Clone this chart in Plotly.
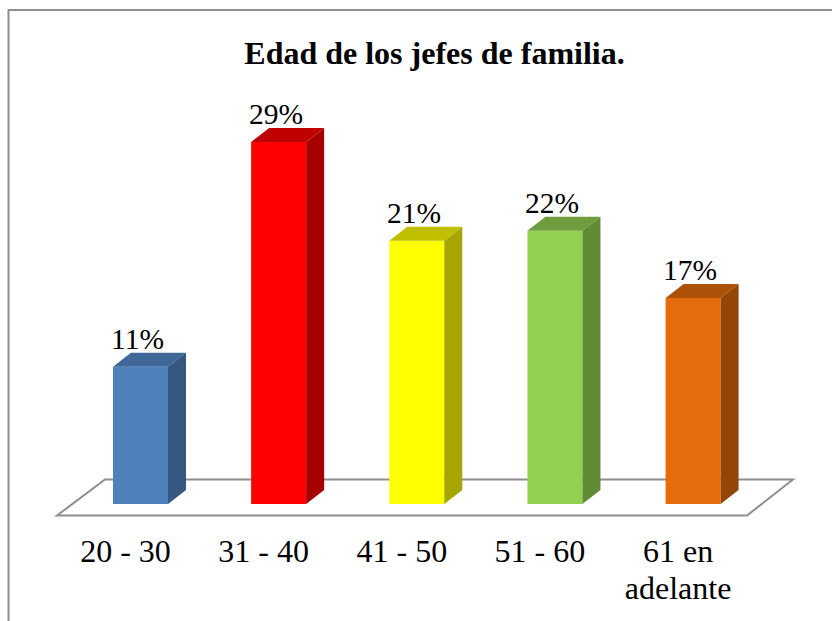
import plotly.graph_objects as go

W, H = 832, 621
categories = ["20 - 30", "31 - 40", "41 - 50", "51 - 60", "61 en<br>adelante"]
values = [11.0, 29.0, 21.1, 21.9, 16.5]
labels = ["11%", "29%", "21%", "22%", "17%"]
front_colors = ["#4F81BD", "#FF0000", "#FFFF00", "#92D050", "#E46C0A"]
side_colors = ["#355780", "#A60000", "#A6A600", "#618B35", "#944607"]
top_colors = ["#3F6797", "#BF0000", "#BFBF00", "#6F9C3C", "#AB5108"]

FONT = "Liberation Serif"
X0_PX, STEP_PX = 140.5, 138.15
Y0_PX, UNIT_PX = 504, 12.48
AXIS_BOTTOM_PX = 518
BAR_W = 55 / STEP_PX
DX = 18 / STEP_PX
DY = 14 / UNIT_PX

fig = go.Figure()
fig.add_trace(go.Bar(x=list(range(5)), y=values, width=BAR_W,
                     marker=dict(color=front_colors, line=dict(width=0)),
                     hoverinfo="skip", showlegend=False))
for i, v in enumerate(values):
    xl, xr = i - BAR_W / 2, i + BAR_W / 2
    fig.add_trace(go.Scatter(x=[xr, xr + DX, xr + DX, xr, xr], y=[0, DY, v + DY, v, 0],
                             mode="lines", fill="toself", fillcolor=side_colors[i],
                             line=dict(width=0), hoverinfo="skip", showlegend=False))
    fig.add_trace(go.Scatter(x=[xl, xr, xr + DX, xl + DX, xl], y=[v, v, v + DY, v + DY, v],
                             mode="lines", fill="toself", fillcolor=top_colors[i],
                             line=dict(width=0), hoverinfo="skip", showlegend=False))
    fig.add_annotation(x=i, y=v, text=labels[i], showarrow=False, xshift=-3, yshift=10,
                       yanchor="bottom", font=dict(family=FONT, size=29.5, color="#000000"))

fx = lambda p: (p - X0_PX) / STEP_PX
fy = lambda p: (Y0_PX - p) / UNIT_PX
floor_px = [(57, 515.5), (105, 479.5), (793, 479.5), (747, 515.5)]
floor_path = "M " + " L ".join(f"{fx(a):.4f},{fy(b):.4f}" for a, b in floor_px) + " Z"
fig.add_shape(type="path", path=floor_path, xref="x", yref="y", layer="below",
              line=dict(color="#8E8E8E", width=2), fillcolor="white")
# chart-area frame, open to the right and below like the reference
fig.add_shape(type="path", xref="paper", yref="paper", layer="below",
              path=f"M {8.5/W},{(AXIS_BOTTOM_PX-621)/AXIS_BOTTOM_PX} L {8.5/W},{(AXIS_BOTTOM_PX-10)/AXIS_BOTTOM_PX} L 1,{(AXIS_BOTTOM_PX-10)/AXIS_BOTTOM_PX}",
              line=dict(color="#8E8E8E", width=2))

tick_text = ["<br>".join(f'<span style="font-size:32px">{part}</span>' for part in c.split("<br>"))
             for c in categories]

fig.update_layout(
    width=W, height=H, autosize=False,
    margin=dict(l=0, r=0, t=0, b=H - AXIS_BOTTOM_PX, pad=0),
    paper_bgcolor="white", plot_bgcolor="white", showlegend=False,
    title=dict(text="<b>Edad de los jefes de familia.</b>", x=434.5 / W, xanchor="center",
               y=1 - 52.5 / H, yanchor="middle", font=dict(family=FONT, size=32, color="#000000")),
    xaxis=dict(range=[fx(0), fx(W)], tickmode="array", tickvals=list(range(5)), ticktext=tick_text,
               showgrid=False, zeroline=False, showline=False, ticks="outside", ticklen=9,
               ticklabelshift=-15,
               tickcolor="rgba(0,0,0,0)", tickfont=dict(family=FONT, size=28.5, color="#000000")),
    yaxis=dict(range=[fy(AXIS_BOTTOM_PX), fy(0)], showgrid=False, zeroline=False, showline=False,
               showticklabels=False, ticks=""),
)
fig.write_html("out.html", config={"displayModeBar": False},
               post_script="document.body.style.margin='0';document.body.style.overflow='hidden';")
